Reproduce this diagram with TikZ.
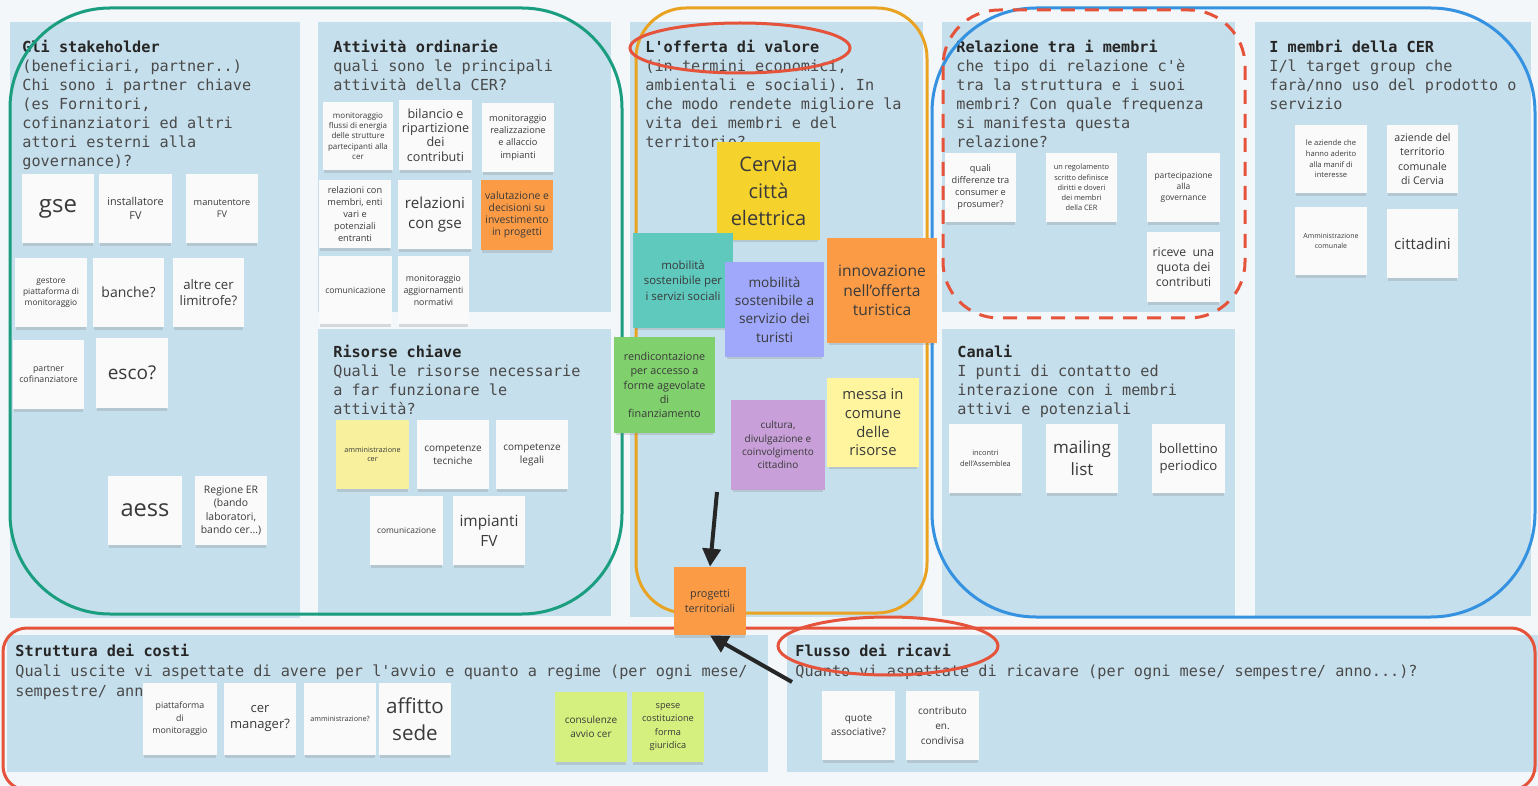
\documentclass[tikz,border=0pt]{standalone}
\usepackage{fontspec}
\setsansfont{Open Sans}
\setmonofont{DejaVu Sans Mono}
\usetikzlibrary{arrows.meta,shadows}
\definecolor{bgc}{HTML}{F3F7FA}
\definecolor{panel}{HTML}{C6DFEC}
\definecolor{grn}{HTML}{1A9E7F}
\definecolor{orn}{HTML}{E9A322}
\definecolor{blu}{HTML}{3592E0}
\definecolor{redc}{HTML}{E5533B}
\definecolor{arrowc}{HTML}{262626}
\definecolor{paper}{HTML}{FAFAFA}
\definecolor{stxt}{HTML}{3A3A3A}
\definecolor{bodytxt}{HTML}{4A4A4A}
\definecolor{ttl}{HTML}{262626}
\definecolor{orng}{HTML}{FC9B46}
\definecolor{cerv}{HTML}{F6D22C}
\definecolor{tealc}{HTML}{5FC9BE}
\definecolor{peri}{HTML}{9FA8FA}
\definecolor{gren}{HTML}{80D06D}
\definecolor{purp}{HTML}{C89FD8}
\definecolor{ylwl}{HTML}{FFF59E}
\definecolor{ylwb}{HTML}{F8F09C}
\definecolor{limec}{HTML}{D5F07E}
\newcommand\stf[2]{\fontsize{#1}{#2}\selectfont}
\newcommand\ttlt[1]{\textcolor{ttl}{\textbf{#1}}}
\newcommand\plines[1]{\begin{tabular}[t]{@{}l@{}}#1\end{tabular}}
\tikzset{
  st/.style 2 args={minimum width=#1*0.5pt, minimum height=#2*0.5pt, inner sep=0.5pt,
    align=center, text=stxt, fill=paper,
    drop shadow={shadow xshift=0pt, shadow yshift=-2.2pt, shadow scale=0.96, opacity=0.25}},
  ptxt/.style={anchor=base west, inner sep=0pt, text=bodytxt, font=\ttfamily\stf{7.6}{9.5}},
  outl/.style={line width=1.5pt},
  arr/.style={draw=arrowc, line width=2pt, -{Triangle[length=9pt,width=9pt]}},
}
\begin{document}
\begin{tikzpicture}[x=0.5pt,y=-0.5pt]
\useasboundingbox (0,0) rectangle (1538,786);
\fill[bgc] (0,0) rectangle (1538,786);
% panels
\fill[panel] (10,22) rectangle (300,618);
\fill[panel] (318,22) rectangle (611,312);
\fill[panel] (318,329) rectangle (611,616);
\fill[panel] (630,22) rectangle (923,617);
\fill[panel] (942,22) rectangle (1235,312);
\fill[panel] (942,329) rectangle (1235,616);
\fill[panel] (1255,22) rectangle (1531,616);
\fill[panel] (7,635) rectangle (768,772);
\fill[panel] (787,635) rectangle (1538,772);
% panel texts
\node[ptxt] (t1) at (22,52.5) {\plines{\ttlt{Gli stakeholder}\\(beneficiari, partner..)\\Chi sono i partner chiave\\(es Fornitori,\\cofinanziatori ed altri\\attori esterni alla\\governance)?}};
\node[ptxt] (t2) at (333,52.5) {\plines{\ttlt{Attività ordinarie}\\quali sono le principali\\attività della CER?}};
\node[ptxt] (t3) at (333,357.5) {\plines{\ttlt{Risorse chiave}\\Quali le risorse necessarie\\a far funzionare le\\attività?}};
\node[ptxt] (t4) at (645,52.5) {\plines{\ttlt{L'offerta di valore}\\(in termini economici,\\ambientali e sociali). In\\che modo rendete migliore la\\vita dei membri e del\\territorio?}};
\node[ptxt] (t5) at (956,52.5) {\plines{\ttlt{Relazione tra i membri}\\che tipo di relazione c'è\\tra la struttura e i suoi\\membri? Con quale frequenza\\si manifesta questa\\relazione?}};
\node[ptxt] (t6) at (957,357.5) {\plines{\ttlt{Canali}\\I punti di contatto ed\\interazione con i membri\\attivi e potenziali}};
\node[ptxt] (t7) at (1269,52.5) {\plines{\ttlt{I membri della CER}\\I/l target group che\\farà/nno uso del prodotto o\\servizio}};
\node[ptxt, font=\ttfamily\stf{7.6}{10}] (t8) at (15,656.5) {\plines{\ttlt{Struttura dei costi}\\Quali uscite vi aspettate di avere per l'avvio e quanto a regime (per ogni mese/\\sempestre/ anno...)?}};
\node[ptxt, font=\ttfamily\stf{7.6}{10}] (t9) at (795,656.5) {\plines{\ttlt{Flusso dei ricavi}\\Quanto vi aspettate di ricavare (per ogni mese/ sempestre/ anno...)?}};
% outlines
\draw[outl, draw=grn, rounded corners=50pt] (10,8) rectangle (622,614);
\draw[outl, draw=orn, rounded corners=25pt] (636,8) rectangle (927,613);
\draw[outl, draw=blu, rounded corners=52pt] (932,8) rectangle (1535,617);
\draw[outl, draw=redc, dash pattern=on 7pt off 5pt, rounded corners=28pt] (943,10) rectangle (1245,318);
\draw[outl, draw=redc, rounded corners=12pt] (3,628) rectangle (1535,790);
% P1 stickies
\node[st={72}{69}, font=\sffamily\stf{12}{14}] (gse) at (58,208.5) {gse};
\node[st={73}{69}, font=\sffamily\stf{5.4}{7}] (inst) at (135.5,208.5) {installatore\\FV};
\node[st={72}{69}, font=\sffamily\stf{4.6}{6}] (manu) at (222,208.5) {manutentore\\FV};
\node[st={72}{69}, font=\sffamily\stf{4.2}{5.6}] (gest) at (51,292.5) {gestore\\piattaforma di\\monitoraggio};
\node[st={71}{69}, font=\sffamily\stf{7}{9}] (banche) at (128.5,292.5) {banche?};
\node[st={71}{69}, font=\sffamily\stf{6.6}{8.3}] (altre) at (208.5,292.5) {altre cer\\limitrofe?};
\node[st={71}{69}, font=\sffamily\stf{4.4}{5.6}] (partner) at (48.5,374.5) {partner\\cofinanziatore};
\node[st={72}{70}, font=\sffamily\stf{9.5}{11}] (esco) at (132,373) {esco?};
\node[st={74}{69}, font=\sffamily\stf{11.8}{14}] (aess) at (145,510.5) {aess};
\node[st={72}{69}, font=\sffamily\stf{5.2}{6.6}] (regione) at (231,510.5) {Regione ER\\(bando\\laboratori,\\bando cer...)};
% P2 stickies
\node[st={70}{68}, font=\sffamily\stf{4}{5.2}] (monfl) at (358,136) {monitoraggio\\flussi di energia\\delle strutture\\partecipanti alla\\cer};
\node[st={73}{70}, font=\sffamily\stf{6.3}{7.2}] (bil) at (435.5,135) {bilancio e\\ripartizione\\dei\\contributi};
\node[st={72}{69}, font=\sffamily\stf{4.6}{6.2}] (monre) at (518,137.5) {monitoraggio\\realizzazione\\e allaccio\\impianti};
\node[st={72}{68}, font=\sffamily\stf{4.6}{5.9}] (relm) at (355,214) {relazioni con\\membri, enti\\vari e\\potenziali\\entranti};
\node[st={74}{69}, font=\sffamily\stf{7.6}{10}] (relg) at (435,214.5) {relazioni\\con gse};
\node[st={72}{70}, fill=orng, font=\sffamily\stf{5.2}{6}] (valu) at (517,215) {valutazione e\\decisioni su\\investimento\\in progetti};
\node[st={73}{68}, font=\sffamily\stf{4.3}{5.6}] (com1) at (355.5,290) {comunicazione};
\node[st={71}{68}, font=\sffamily\stf{4.4}{6}] (monag) at (433.5,290) {monitoraggio\\aggiornamenti\\normativi};
% P3 stickies
\node[st={73}{69}, fill=ylwb, font=\sffamily\stf{3.6}{4.5}] (amm) at (372.5,454.5) {amministrazione\\cer};
\node[st={72}{69}, font=\sffamily\stf{5}{6.5}] (ctec) at (453,454.5) {competenze\\tecniche};
\node[st={72}{69}, font=\sffamily\stf{5}{6.5}] (cleg) at (532,454.5) {competenze\\legali};
\node[st={73}{69}, font=\sffamily\stf{4.2}{5.6}] (com2) at (406.5,530.5) {comunicazione};
\node[st={72}{69}, font=\sffamily\stf{7.7}{10}] (imp) at (489,530.5) {impianti\\FV};
% P4 stickies
\node[st={103}{98}, fill=cerv, font=\sffamily\stf{10}{13.5}] (cervia) at (768.5,191) {Cervia\\città\\elettrica};
\node[st={100}{95}, fill=tealc, font=\sffamily\stf{5.7}{7.7}] (mobs) at (683,280.5) {mobilità\\sostenibile per\\i servizi sociali};
\node[st={99}{95}, fill=peri, font=\sffamily\stf{6.8}{9.2}] (mobt) at (774.5,309.5) {mobilità\\sostenibile a\\servizio dei\\turisti};
\node[st={110}{105}, fill=orng, font=\sffamily\stf{7.8}{9.8}] (innov) at (882,290.5) {innovazione\\nell'offerta\\turistica};
\node[st={101}{96}, fill=gren, font=\sffamily\stf{5.4}{7.2}] (rend) at (664.5,385) {rendicontazione\\per accesso a\\forme agevolate\\di\\finanziamento};
\node[st={94}{90}, fill=purp, font=\sffamily\stf{5}{6.7}] (cult) at (778,445) {cultura,\\divulgazione e\\coinvolgimento\\cittadino};
\node[st={92}{89}, fill=ylwl, font=\sffamily\stf{7.4}{9.3}] (messa) at (873,422.5) {messa in\\comune\\delle\\risorse};
\node[st={72}{68}, fill=orng, font=\sffamily\stf{5.4}{7.5}] (prog) at (710,601) {progetti\\territoriali};
% P5 stickies
\node[st={71}{69}, font=\sffamily\stf{4.6}{6}] (quali) at (980.5,187.5) {quali\\differenze tra\\consumer e\\prosumer?};
\node[st={71}{69}, font=\sffamily\stf{3.7}{5.1}] (regol) at (1081.5,187.5) {un regolamento\\scritto definisce\\diritti e doveri\\dei membri\\della CER};
\node[st={73}{69}, font=\sffamily\stf{4.2}{5.3}] (partec) at (1183.5,187.5) {partecipazione\\alla\\governance};
\node[st={73}{70}, font=\sffamily\stf{6.1}{7.7}] (riceve) at (1183.5,267) {riceve\ \ una\\quota dei\\contributi};
% P6 stickies
\node[st={73}{69}, font=\sffamily\stf{3.7}{5.2}] (incontri) at (985.5,458.5) {incontri\\dell'Assemblea};
\node[st={72}{69}, font=\sffamily\stf{8.5}{11}] (mailing) at (1082,458.5) {mailing\\list};
\node[st={73}{69}, font=\sffamily\stf{6.6}{8.8}] (boll) at (1188.5,458.5) {bollettino\\periodico};
% P7 stickies
\node[st={72}{68}, font=\sffamily\stf{3.8}{5.3}] (azade) at (1331,159) {le aziende che\\hanno aderito\\alla manif di\\interesse};
\node[st={71}{68}, font=\sffamily\stf{5.3}{7.3}] (azter) at (1422.5,159) {aziende del\\territorio\\comunale\\di Cervia};
\node[st={72}{68}, font=\sffamily\stf{3.5}{4.6}] (ammc) at (1331,241) {Amministrazione\\comunale};
\node[st={71}{69}, font=\sffamily\stf{7.6}{9.5}] (citt) at (1422.5,243.5) {cittadini};
% P8 stickies
\node[st={74}{72}, font=\sffamily\stf{4.4}{6.2}] (piatt) at (180,719) {piattaforma\\di\\monitoraggio};
\node[st={72}{72}, font=\sffamily\stf{6.5}{8}] (cerman) at (260,719) {cer\\manager?};
\node[st={72}{72}, font=\sffamily\stf{3.6}{4.6}] (amm2) at (340,719) {amministrazione?};
\node[st={72}{72}, font=\sffamily\stf{10.3}{13.5}] (affitto) at (415,719) {affitto\\sede};
\node[st={72}{70}, fill=limec, font=\sffamily\stf{5}{6.8}] (consul) at (591,727) {consulenze\\avvio cer};
\node[st={72}{70}, fill=limec, font=\sffamily\stf{4.6}{6.6}] (spese) at (668,727) {spese\\costituzione\\forma\\giuridica};
% P9 stickies
\node[st={73}{69}, font=\sffamily\stf{5}{6.8}] (quote) at (858.5,725.5) {quote\\associative?};
\node[st={73}{69}, font=\sffamily\stf{5}{7.6}] (contr) at (942.5,725.5) {contributo\\en.\\condivisa};
% highlight ellipses
\draw[outl, draw=redc] (740,48) ellipse [x radius=55pt, y radius=12.5pt];
\draw[outl, draw=redc] (888,646) ellipse [x radius=55pt, y radius=14.5pt];
% arrows
\coordinate (a1s) at (717,492);
\coordinate (a2s) at (792,682);
\draw[arr] (a1s) -- (prog.north);
\draw[arr] (a2s) -- (prog.south);
\end{tikzpicture}
\end{document}
